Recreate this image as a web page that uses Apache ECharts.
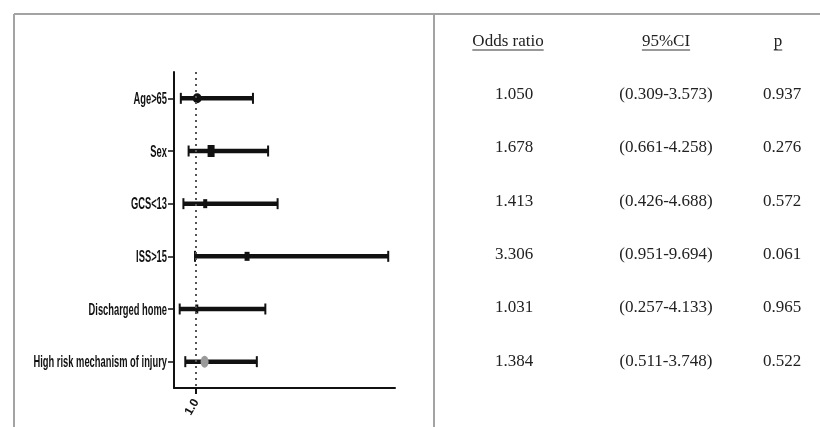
<!DOCTYPE html>
<html>
<head>
<meta charset="utf-8">
<script src="https://cdn.jsdelivr.net/npm/echarts@6/dist/echarts.min.js"></script>
<style>
html,body{margin:0;padding:0;background:#fff;}
#chart{width:820px;height:427px;}
</style>
</head>
<body>
<div id="chart"></div>
<script>
// ---- data ----
var categories = ['Age>65', 'Sex', 'GCS<13', 'ISS>15', 'Discharged home', 'High risk mechanism of injury'];
var oddsRatio = [1.050, 1.678, 1.413, 3.306, 1.031, 1.384];
var ciLower = [0.309, 0.661, 0.426, 0.951, 0.257, 0.511];
var ciUpper = [3.573, 4.258, 4.688, 9.694, 4.133, 3.748];
var pValues = ['0.937', '0.276', '0.572', '0.061', '0.965', '0.522'];
var tableHeaders = ['Odds ratio', '95%CI', 'p'];
var xTickValues = [1];
var refValue = 1;

// ---- styles ----
var markerStyles = [
  { symbol: 'circle', size: [9, 10], color: '#111' },
  { symbol: 'rect', size: [7, 12], color: '#111' },
  { symbol: 'rect', size: [4, 9], color: '#111' },
  { symbol: 'rect', size: [5, 9], color: '#111' },
  { symbol: 'rect', size: [3, 9], color: '#111' },
  { symbol: 'circle', size: [8, 12], color: '#9a9a9a' }
];
var labelFont = 'bold 17px "Liberation Sans", Arial, sans-serif';
var serifFont = '17px "Liberation Serif", "Times New Roman", serif';

var chart = echarts.init(document.getElementById('chart'), null, { renderer: 'canvas' });

var barData = categories.map(function (c, i) { return [ciLower[i], ciUpper[i], i]; });
var pointData = categories.map(function (c, i) {
  var s = markerStyles[i];
  return { value: [oddsRatio[i], i], symbol: s.symbol, symbolSize: s.size, itemStyle: { color: s.color, opacity: 1 } };
});

var measureCtx = document.createElement('canvas').getContext('2d');
measureCtx.font = serifFont;

var rowY = [95, 148, 202, 255, 308, 362];
var headX = [508, 666, 778];
var cellX = [514, 666, 782];
var graphics = [
  { type: 'line', shape: { x1: 14, y1: 14, x2: 820, y2: 14 }, style: { stroke: '#a3a3a3', lineWidth: 2 } },
  { type: 'line', shape: { x1: 14, y1: 14, x2: 14, y2: 427 }, style: { stroke: '#a3a3a3', lineWidth: 2 } },
  { type: 'line', shape: { x1: 434, y1: 14, x2: 434, y2: 427 }, style: { stroke: '#a3a3a3', lineWidth: 2 } }
];
tableHeaders.forEach(function (h, j) {
  var w = measureCtx.measureText(h).width;
  graphics.push({ type: 'text', x: headX[j], y: 42, style: { text: h, font: serifFont, fill: '#222', align: 'center', verticalAlign: 'middle' } });
  graphics.push({ type: 'line', shape: { x1: headX[j] - w / 2, y1: 50, x2: headX[j] + w / 2, y2: 50 }, style: { stroke: '#333', lineWidth: 1 } });
});
categories.forEach(function (c, i) {
  var cells = [oddsRatio[i].toFixed(3), '(' + ciLower[i].toFixed(3) + '-' + ciUpper[i].toFixed(3) + ')', pValues[i]];
  cells.forEach(function (t, j) {
    graphics.push({ type: 'text', x: cellX[j], y: rowY[i], style: { text: t, font: serifFont, fill: '#222', align: 'center', verticalAlign: 'middle' } });
  });
});

var option = {
  animation: false,
  backgroundColor: '#fff',
  grid: { left: 174, top: 72, width: 221, height: 316, containLabel: false },
  xAxis: {
    type: 'value', min: 0, max: 10,
    splitLine: { show: false },
    axisLine: { show: true, onZero: false, lineStyle: { color: '#111', width: 2 } },
    axisTick: { show: true, customValues: xTickValues, length: 6, lineStyle: { color: '#111', width: 2 } },
    axisLabel: { show: true, customValues: xTickValues, rotate: 60, margin: 12, color: '#111',
      fontFamily: '"Liberation Sans", Arial, sans-serif', fontWeight: 'bold', fontSize: 12,
      formatter: function (v) { return Number(v).toFixed(1); } }
  },
  yAxis: {
    type: 'category', data: categories, inverse: true,
    axisLine: { show: true, onZero: false, lineStyle: { color: '#111', width: 2 } },
    axisTick: { show: true, alignWithLabel: true, length: 6, lineStyle: { color: '#111', width: 1.5 } },
    axisLabel: { show: false },
    splitLine: { show: false }
  },
  series: [
    {
      type: 'custom',
      data: barData,
      encode: { x: [0, 1], y: 2 },
      renderItem: function (params, api) {
        var p1 = api.coord([api.value(0), api.value(2)]);
        var p2 = api.coord([api.value(1), api.value(2)]);
        var h = 5.5;
        return {
          type: 'group',
          children: [
            { type: 'line', shape: { x1: p1[0], y1: p1[1], x2: p2[0], y2: p2[1] }, style: { stroke: '#111', lineWidth: 4.5 } },
            { type: 'line', shape: { x1: p1[0], y1: p1[1] - h, x2: p1[0], y2: p1[1] + h }, style: { stroke: '#111', lineWidth: 2 } },
            { type: 'line', shape: { x1: p2[0], y1: p2[1] - h, x2: p2[0], y2: p2[1] + h }, style: { stroke: '#111', lineWidth: 2 } }
          ]
        };
      },
      z: 2
    },
    {
      type: 'scatter',
      data: pointData,
      markLine: {
        silent: true, symbol: 'none', label: { show: false },
        lineStyle: { color: '#555', type: [2, 4], width: 2 },
        data: [{ xAxis: refValue }]
      },
      z: 3
    }
  ],
  graphic: graphics
};
chart.setOption(option);

// category labels: condensed bold text placed at the axis positions
var labelGraphics = categories.map(function (c, i) {
  var p = chart.convertToPixel({ xAxisIndex: 0, yAxisIndex: 0 }, [0, i]);
  return { type: 'text', x: p[0] - 7, y: p[1] + 1, scaleX: 0.55, originX: 0, originY: 0,
    style: { text: c, font: labelFont, fill: '#111', align: 'right', verticalAlign: 'middle' } };
});
chart.setOption({ graphic: graphics.concat(labelGraphics) });
</script>
</body>
</html>
